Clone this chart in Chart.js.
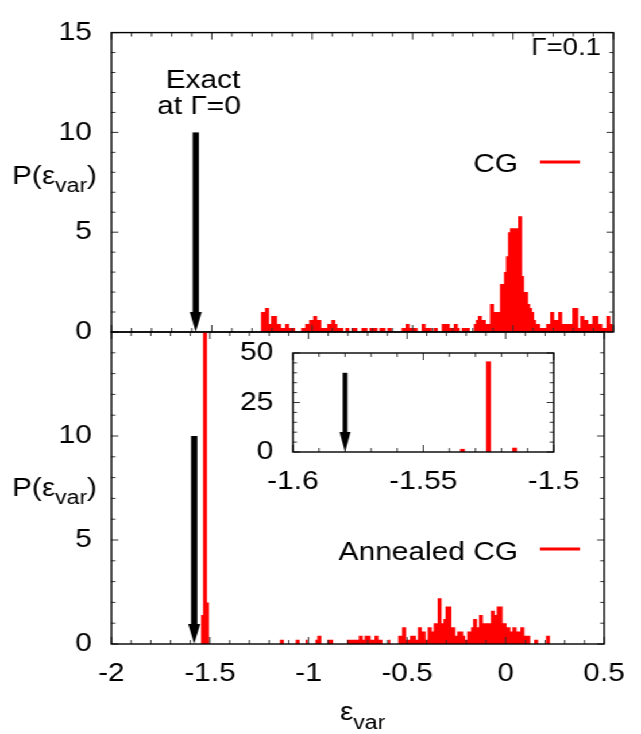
<!DOCTYPE html>
<html><head><meta charset="utf-8">
<script src="https://cdn.jsdelivr.net/npm/chart.js@4.4.1/dist/chart.umd.min.js"></script>
<style>
html,body{margin:0;padding:0;background:#fff;overflow:hidden;width:641px;height:734px}
#wrap{position:absolute;left:0;top:0;width:558px;height:734px;transform-origin:0 0;transform:scaleX(1.148746)}
canvas{position:absolute;left:0;top:0}
</style></head><body>
<div id="wrap">
<canvas id="cTop" width="558" height="734"></canvas>
<canvas id="cBottom" width="558" height="734"></canvas>
<canvas id="cInset" width="558" height="734"></canvas>
</div>
<script>
// ---------------- data ----------------
const binWidth = 0.01;
// CG histogram (Gamma = 0.1): density per 0.01 bin, first bin starts at cgFirstEdge
const cgFirstEdge = -1.255;
const cgDensity = [
  1.0, 1.0, 1.2, 1.2, 0.4, 0.8, 0.8, 0.8, 0.4, 0.4,
  0.2, 0.2, 0.4, 0.4, 0.2, 0.2, 0.2, 0, 0, 0,
  0.2, 0.2, 0.4, 0.4, 0.6, 0.6, 0.8, 0.8, 0.6, 0.6,
  0.2, 0.2, 0.2, 0.4, 0.4, 0.6, 0.6, 0.4, 0.2,
  0.2, 0.2, 0, 0.2, 0.2, 0, 0.2, 0.2, 0.2, 0,
  0, 0.2, 0.2, 0.2, 0, 0.2, 0.2, 0.2, 0.2, 0,
  0.2, 0.2, 0.2, 0, 0.2, 0.2, 0, 0, 0, 0, 0,
  0.2, 0.2, 0.4, 0.4, 0.2, 0.2, 0.2, 0.2, 0, 0,
  0.4, 0.4, 0.2, 0.2, 0.2, 0, 0.2, 0.2, 0, 0,
  0.4, 0.4, 0.4, 0.4, 0.2, 0.2, 0.4, 0.4, 0.2, 0,
  0.2, 0.2, 0.2, 0.2, 0, 0, 0.4, 0.6, 0.8, 0.8,
  0.6, 0.6, 0.4, 0.4, 1.4, 1.4, 1.0, 1.0, 1.0, 2.4,
  2.4, 3.0, 3.8, 5.0, 5.2, 5.2, 5.2, 5.2, 5.8, 5.8,
  2.8, 2.0, 2.0, 1.4, 1.2, 1.0, 0.6, 0.4, 0.4, 0.2,
  0.2, 0.2, 0.4, 0.4, 1.0, 1.0, 0.6, 0.6, 1.0, 1.0,
  0.4, 0.4, 0.4, 0.4, 0.4, 1.2, 1.2, 1.2, 0.2, 0.8,
  0.8, 0.6, 0.6, 0.4, 0.4, 0.8, 0.8, 0.8, 0.4, 0.4,
  0.2, 0.2, 0.8, 0.8, 0.4
];
// Annealed CG histogram: density per 0.01 bin, first bin starts at annealedFirstEdge
const annealedFirstEdge = -1.545;
const annealedDensity = [
  1.4, 45.6, 45.6, 2.0,
  0, 0, 0, 0, 0, 0, 0, 0, 0, 0, 0, 0, 0, 0, 0, 0, 0, 0, 0, 0, 0, 0, 0, 0, 0,
  0, 0, 0, 0, 0, 0, 0, 0, 0, 0,
  0, 0.2, 0.2, 0, 0, 0, 0, 0, 0, 0.2,
  0.2, 0, 0, 0, 0.2, 0, 0, 0, 0, 0.2,
  0.4, 0.4, 0, 0, 0, 0.2, 0.2, 0.2, 0, 0,
  0, 0, 0, 0, 0, 0.2, 0.2, 0.2, 0.2, 0.2,
  0.2, 0.4, 0.4, 0.2, 0.4, 0.4, 0.4, 0.2, 0.2, 0.4,
  0.4, 0.2, 0.2, 0, 0, 0, 0.2, 0, 0, 0,
  0, 0.4, 0.4, 0.8, 0.8, 0.2, 0.2, 0.4, 0.4, 0.4,
  0.2, 0.8, 0.8, 0.6, 0.6, 0.2, 0.8, 0.8, 0.6, 1.0,
  1.0, 2.2, 2.2, 1.0, 1.2, 1.8, 1.8, 1.8, 0.8, 0.8,
  0.4, 0.6, 0.6, 0.6, 0.4, 0.2, 0.6, 0.6, 0.8, 1.2,
  1.2, 0.8, 1.4, 1.4, 1.0, 1.0, 1.0, 1.0, 1.6, 1.6,
  1.4, 1.8, 1.8, 1.8, 1.0, 1.0, 0.8, 0.8, 0.6, 0.8,
  0.8, 0.6, 0.6, 0.8, 0.8, 0.4, 0.4, 0.4, 0, 0,
  0.2, 0.2, 0, 0, 0, 0, 0.4, 0.4
];
// Inset: annealed CG bins near the ground state
const insetCenters = [-1.535, -1.525, -1.515];
const insetDensity = [1.4, 45.6, 2.0];
// exact energy at Gamma = 0 (arrow)
const exactEnergy = -1.58;
const arrowTopMain = 10;
const arrowTopInset = 40;
// tick labels
const mainXTicks = [-2, -1.5, -1, -0.5, 0, 0.5];
const mainYTicks = [0, 5, 10, 15];
const insetXTicks = [-1.6, -1.55, -1.5];
const insetYTicks = [0, 25, 50];
const mainXMinor = 0.1, mainYMinor = 1, insetXMinor = 0.01, insetYMinor = 5;
const labels = { top: 'CG', bottom: 'Annealed CG', gamma: 'Γ=0.1', exact1: 'Exact', exact2: 'at Γ=0' };

// ---------------- helpers ----------------
const S = 641 / 558;
const cx = px => px / S;
const FONT = "'Liberation Sans', Arial, Helvetica, sans-serif";
const TICKFONT = { family: FONT, size: 26 };

function stepPoints(firstEdge, values) {
  const pts = [{ x: firstEdge - binWidth / 2, y: 0 }];
  values.forEach((v, i) => pts.push({ x: firstEdge + (i + 0.5) * binWidth, y: v }));
  pts.push({ x: firstEdge + (values.length + 0.5) * binWidth, y: 0 });
  return pts;
}

function text(ctx, s, x, y, size, align) {
  ctx.font = size + 'px ' + FONT;
  ctx.textAlign = align || 'left';
  ctx.textBaseline = 'alphabetic';
  ctx.fillStyle = '#000';
  ctx.fillText(s, x, y);
}

function subLabel(ctx, x, y, main, sub, close, size, subSize, drop) {
  ctx.font = size + 'px ' + FONT; ctx.textAlign = 'left'; ctx.textBaseline = 'alphabetic'; ctx.fillStyle = '#000';
  ctx.fillText(main, x, y); let w = ctx.measureText(main).width;
  ctx.font = subSize + 'px ' + FONT; ctx.fillText(sub, x + w, y + drop); w += ctx.measureText(sub).width;
  if (close) { ctx.font = size + 'px ' + FONT; ctx.fillText(close, x + w, y); }
}

function arrow(ctx, x, yTop, yTip, shaft, headW, headH) {
  ctx.fillStyle = '#000';
  ctx.fillRect(x - shaft / 2, yTop, shaft, yTip - headH - yTop + 1);
  ctx.beginPath();
  ctx.moveTo(x - headW / 2, yTip - headH);
  ctx.lineTo(x + headW / 2, yTip - headH);
  ctx.lineTo(x, yTip);
  ctx.closePath(); ctx.fill();
}

const decor = {
  id: 'decor',
  beforeDraw(chart, args, o) {
    if (o.white) {
      const a = chart.chartArea, ctx = chart.ctx;
      ctx.save(); ctx.fillStyle = '#fff'; ctx.fillRect(a.left, a.top, a.right - a.left, a.bottom - a.top); ctx.restore();
    }
  },
  afterDraw(chart, args, o) {
    const ctx = chart.ctx, a = chart.chartArea, xs = chart.scales.x, ys = chart.scales.y;
    ctx.save();
    // inward ticks on all four sides
    ctx.strokeStyle = '#333'; ctx.lineWidth = 1;
    const near = (v, arr) => arr.some(m => Math.abs(m - v) < 1e-7);
    const nX = Math.round((xs.max - xs.min) / o.xMinor);
    for (let i = 0; i <= nX; i++) {
      const v = xs.min + i * o.xMinor; const p = xs.getPixelForValue(v);
      const L = near(v, o.xMajor) ? 7 : 4;
      ctx.beginPath(); ctx.moveTo(p, a.bottom); ctx.lineTo(p, a.bottom - L);
      ctx.moveTo(p, a.top); ctx.lineTo(p, a.top + L); ctx.stroke();
    }
    const nY = Math.round((ys.max - ys.min) / o.yMinor);
    for (let i = 0; i <= nY; i++) {
      const v = ys.min + i * o.yMinor; const p = ys.getPixelForValue(v);
      const L = cx(near(v, o.yMajor) ? 7 : 4);
      ctx.beginPath(); ctx.moveTo(a.left, p); ctx.lineTo(a.left + L, p);
      ctx.moveTo(a.right, p); ctx.lineTo(a.right - L, p); ctx.stroke();
    }
    // border
    ctx.strokeStyle = '#000'; ctx.lineWidth = 1.4;
    ctx.strokeRect(a.left, a.top, a.right - a.left, a.bottom - a.top);
    // arrow marking the exact energy
    arrow(ctx, xs.getPixelForValue(exactEnergy), ys.getPixelForValue(o.arrowTop), ys.getPixelForValue(0),
      cx(o.shaft), cx(o.headW), 20);
    if (o.draw) o.draw(ctx, chart);
    ctx.restore();
  }
};

function redSample(ctx, y) {
  ctx.strokeStyle = '#ff0000'; ctx.lineWidth = 3;
  ctx.beginPath(); ctx.moveTo(cx(540), y); ctx.lineTo(cx(580), y); ctx.stroke();
}

function mainOptions(pad, showX, yCallback, decorOpts) {
  return {
    responsive: false, animation: false, devicePixelRatio: 1,
    layout: { padding: pad },
    plugins: { legend: { display: false }, tooltip: { enabled: false }, decor: decorOpts },
    scales: {
      x: {
        type: 'linear', min: -2, max: 0.5, display: showX,
        afterBuildTicks: s => { s.ticks = mainXTicks.map(v => ({ value: v })); },
        afterFit: s => { s.height = showX ? 50 : 0; },
        grid: { display: false, drawTicks: false }, border: { display: false },
        ticks: { padding: 14, color: '#000', font: TICKFONT, maxRotation: 0, autoSkip: false,
          callback: v => String(+(+v).toFixed(1)) }
      },
      y: {
        type: 'linear', min: 0, max: 15,
        afterBuildTicks: s => { s.ticks = mainYTicks.map(v => ({ value: v })); },
        afterFit: s => { s.width = 80; },
        grid: { display: false, drawTicks: false }, border: { display: false },
        ticks: { padding: 17, color: '#000', font: TICKFONT, autoSkip: false, callback: yCallback }
      }
    }
  };
}

const areaDataset = pts => ({
  data: pts, stepped: 'middle', fill: 'origin', backgroundColor: '#ff0000',
  borderColor: 'rgba(0,0,0,0)', borderWidth: 0, pointRadius: 0, tension: 0
});

// ---------------- top panel: CG ----------------
new Chart(document.getElementById('cTop'), {
  type: 'line',
  data: { datasets: [areaDataset(stepPoints(cgFirstEdge, cgDensity))] },
  options: mainOptions({ left: 17, right: 24, top: 21, bottom: 402 }, false, v => String(v), {
    xMinor: mainXMinor, yMinor: mainYMinor, xMajor: mainXTicks, yMajor: mainYTicks,
    arrowTop: arrowTopMain, shaft: 6.3, headW: 12,
    draw(ctx) {
      text(ctx, labels.exact1, cx(203), 88, 26, 'center');
      text(ctx, labels.exact2, cx(199), 114, 26, 'center');
      text(ctx, labels.gamma, cx(601), 55, 24, 'right');
      text(ctx, labels.top, cx(518), 172, 26, 'right');
      redSample(ctx, 162);
      subLabel(ctx, cx(12), 184, 'P(ε', 'var', ')', 26, 20, 8);
    }
  }),
  plugins: [decor]
});

// ---------------- bottom panel: Annealed CG ----------------
new Chart(document.getElementById('cBottom'), {
  type: 'line',
  data: { datasets: [areaDataset(stepPoints(annealedFirstEdge, annealedDensity))] },
  options: mainOptions({ left: 17, right: 24, top: 332, bottom: 40 }, true, v => (v === 15 ? '' : String(v)), {
    xMinor: mainXMinor, yMinor: mainYMinor, xMajor: mainXTicks, yMajor: mainYTicks,
    arrowTop: arrowTopMain, shaft: 6.3, headW: 12,
    draw(ctx) {
      text(ctx, labels.bottom, cx(518), 560, 26, 'right');
      redSample(ctx, 549);
      subLabel(ctx, cx(12), 496, 'P(ε', 'var', ')', 26, 20, 8);
      subLabel(ctx, cx(340), 720, 'ε', 'var', '', 26, 20, 9);
    }
  }),
  plugins: [decor]
});

// ---------------- inset ----------------
new Chart(document.getElementById('cInset'), {
  type: 'bar',
  data: { datasets: [{
    data: insetCenters.map((c, i) => ({ x: c, y: insetDensity[i] })),
    backgroundColor: '#ff0000', borderWidth: 0, barThickness: cx(4)
  }] },
  options: {
    responsive: false, animation: false, devicePixelRatio: 1,
    layout: { padding: { left: 175, right: 76, top: 353, bottom: 242 } },
    plugins: { legend: { display: false }, tooltip: { enabled: false },
      decor: { white: true, xMinor: insetXMinor, yMinor: insetYMinor, xMajor: insetXTicks, yMajor: insetYTicks,
        arrowTop: arrowTopInset, shaft: 4.7, headW: 11 } },
    scales: {
      x: {
        type: 'linear', min: -1.6, max: -1.5, offset: false,
        afterBuildTicks: s => { s.ticks = insetXTicks.map(v => ({ value: v })); },
        afterFit: s => { s.height = 40; },
        grid: { display: false, drawTicks: false }, border: { display: false },
        ticks: { padding: 14, color: '#000', font: TICKFONT, maxRotation: 0, autoSkip: false,
          callback: v => String(+(+v).toFixed(2)) }
      },
      y: {
        type: 'linear', min: 0, max: 50,
        afterBuildTicks: s => { s.ticks = insetYTicks.map(v => ({ value: v })); },
        afterFit: s => { s.width = 80; },
        grid: { display: false, drawTicks: false }, border: { display: false },
        ticks: { padding: 17, color: '#000', font: TICKFONT, autoSkip: false, callback: v => String(v) }
      }
    }
  },
  plugins: [decor]
});
</script>
</body></html>
